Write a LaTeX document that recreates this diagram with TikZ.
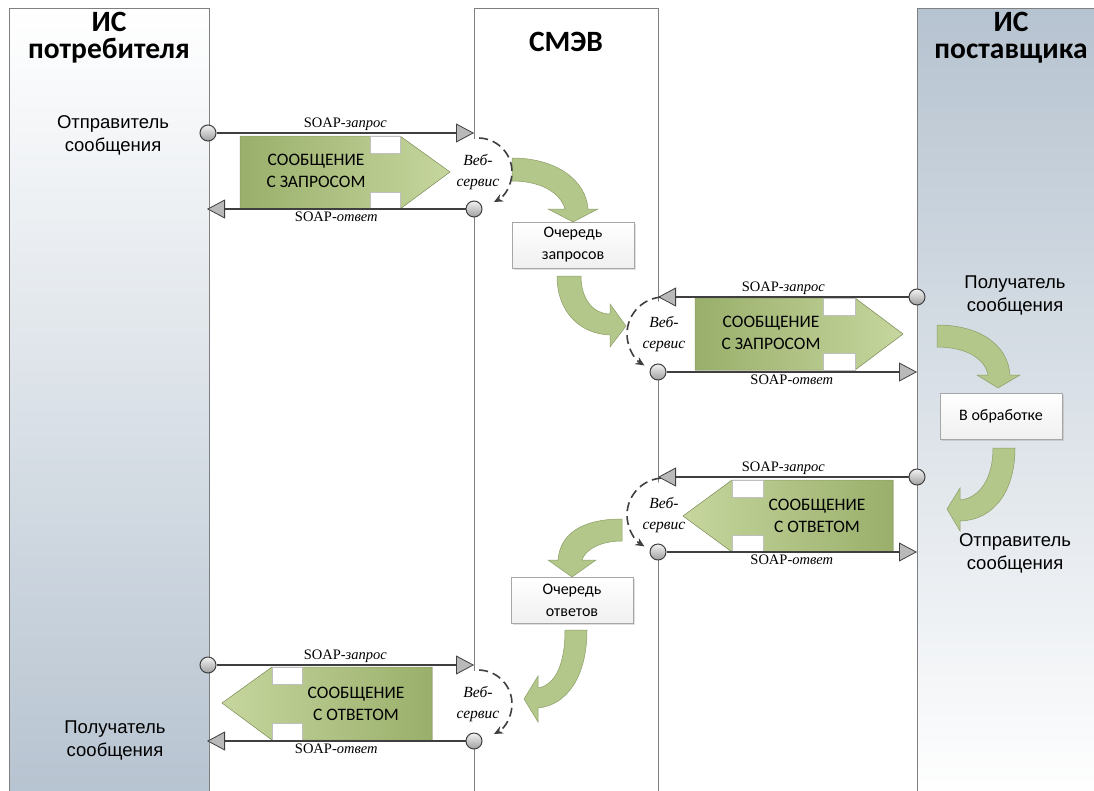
\documentclass[tikz,border=0pt]{standalone}
\usepackage{fontspec}
\setmainfont{Liberation Sans}
\newfontfamily\calib{Carlito}
\newfontfamily\cambr{Liberation Serif}
\usetikzlibrary{arrows.meta,shadows}
\definecolor{lanegray}{HTML}{7F7F7F}
\definecolor{laneblue}{HTML}{B6C3D0}
\definecolor{linegray}{HTML}{3F3F3F}
\definecolor{msgdark}{HTML}{9AAF6B}
\definecolor{msglight}{HTML}{C6D69E}
\definecolor{curvegreen}{HTML}{B4C78A}
\definecolor{curveedge}{HTML}{8C9D66}

\tikzset{
  lane/.style={draw=lanegray,line width=1pt},
  lanetitle/.style={font=\calib\bfseries\fontsize{29.5}{27}\selectfont,align=center},
  actor/.style={font=\fontsize{18.5}{23}\selectfont,align=center},
  ball/.style={circle,draw=linegray,line width=1pt,minimum size=16pt,inner sep=0pt,top color=gray!10,bottom color=gray!75},
  soap/.style={draw=linegray,line width=1.6pt,-{Triangle[length=18pt,width=19pt,line width=0.8pt,fill=gray!55]}},
  soaplbl/.style={font=\cambr\itshape\fontsize{14.5}{16}\selectfont,inner sep=2pt},
  websvc/.style={circle,fill=white,minimum size=66pt,inner sep=0pt,align=center,font=\cambr\itshape\fontsize{15.5}{21}\selectfont},
  wsarc/.style={draw=linegray,line width=1.6pt,dash pattern=on 9pt off 5pt,-{Stealth[length=9pt,width=8pt]}},
  msgright/.style={left color=msgdark,right color=msglight,draw=curveedge,line width=0.5pt},
  msgleft/.style={left color=msglight,right color=msgdark,draw=curveedge,line width=0.5pt},
  notch/.style={fill=white,draw=gray!50,line width=0.4pt},
  msgtext/.style={font=\calib\fontsize{17.5}{22}\selectfont,align=center},
  turn/.style={fill=curvegreen,draw=curveedge,line width=0.5pt},
  queue/.style={draw=gray!70,line width=0.8pt,top color=white,bottom color=gray!12,minimum width=122pt,minimum height=46pt,align=center,font=\calib\fontsize{16}{22}\selectfont,drop shadow={opacity=0.25,shadow xshift=2pt,shadow yshift=-2pt}}
}

\begin{document}
\begin{tikzpicture}[x=1pt,y=-1pt]
\useasboundingbox (0,0) rectangle (1094,790);
\clip (0,0) rectangle (1094,790);
%\draw (0,0) grid[step=50] (1094,790);

% lanes
\filldraw[lane,top color=white,bottom color=laneblue] (9,8) rectangle (209,800);
\filldraw[lane,fill=white] (474,8) rectangle (658,800);
\filldraw[lane,top color=laneblue,bottom color=white] (917,8) rectangle (1110,800);
\node[lanetitle] (cons) at (109,38) {ИС\\потребителя};
\node[lanetitle] (smev) at (566,42) {СМЭВ};
\node[lanetitle] (prov) at (1011,38) {ИС\\поставщика};

\node[actor] (snd1) at (113,135) {Отправитель\\сообщения};
\node[actor] (rcv1) at (1015,295) {Получатель\\сообщения};
\node[actor] (snd2) at (1015,553) {Отправитель\\сообщения};
\node[actor] (rcv2) at (115,740) {Получатель\\сообщения};

% web services
\node[websvc] (w1) at (478,172) {Веб-\\сервис};
\node[websvc] (w2) at (664,334) {Веб-\\сервис};
\node[websvc] (w3) at (664,515) {Веб-\\сервис};
\node[websvc] (w4) at (478,704) {Веб-\\сервис};

% messages
\filldraw[msgright] (240,136) -- (400,136) -- (450,172) -- (400,209) -- (240,209) -- cycle;
\filldraw[notch] (370,136) rectangle (400,153);
\filldraw[notch] (370,192) rectangle (400,209);
\node[msgtext] (m1) at (316,171) {СООБЩЕНИЕ\\С ЗАПРОСОМ};

\filldraw[msgright] (695,298) -- (855,298) -- (903,334) -- (855,370) -- (695,370) -- cycle;
\filldraw[notch] (823,298) rectangle (855,315);
\filldraw[notch] (823,353) rectangle (855,370);
\node[msgtext] (m2) at (771,333) {СООБЩЕНИЕ\\С ЗАПРОСОМ};

\filldraw[msgleft] (893,480) -- (732,480) -- (683,516) -- (732,552) -- (893,552) -- cycle;
\filldraw[notch] (732,480) rectangle (763,497);
\filldraw[notch] (732,535) rectangle (763,552);
\node[msgtext] (m3) at (817,516) {СООБЩЕНИЕ\\С ОТВЕТОМ};

\filldraw[msgleft] (432,667) -- (272,667) -- (222,703) -- (272,740) -- (432,740) -- cycle;
\filldraw[notch] (272,667) rectangle (302,684);
\filldraw[notch] (272,723) rectangle (302,740);
\node[msgtext] (m4) at (356,704) {СООБЩЕНИЕ\\С ОТВЕТОМ};

% queues
\node[queue] (qreq) at (573,245) {Очередь\\запросов};
\node[queue] (work) at (1001,416) {В обработке};
\node[queue] (qans) at (572,600) {Очередь\\ответов};

% turns
\filldraw[turn] (512,158) .. controls (556,158) and (586,180) .. (588,209) -- (598,209) -- (573,222) -- (548,209) -- (565,209) .. controls (560,192) and (540,181) .. (512,181) -- cycle;
\filldraw[turn] (557,276) .. controls (557,312) and (580,334) .. (610,335) -- (610,347) -- (626,326) -- (610,304) -- (610,314) .. controls (594,314) and (581,300) .. (581,276) -- cycle;
\filldraw[turn] (937,325) .. controls (980,325) and (1008,345) .. (1010,375) -- (1020,375) -- (998,388) -- (977,375) -- (988,375) .. controls (985,358) and (965,347) .. (937,347) -- cycle;
\filldraw[turn] (1015,448) .. controls (1015,490) and (995,520) .. (960,521) -- (960,531) -- (947,509) -- (960,488) -- (960,500) .. controls (980,498) and (993,478) .. (993,448) -- cycle;
\filldraw[turn] (622,519) .. controls (580,519) and (560,535) .. (558,560) -- (548,560) -- (572,577) -- (596,560) -- (582,560) .. controls (585,550) and (600,541) .. (622,541) -- cycle;
\filldraw[turn] (587,630) .. controls (587,675) and (568,705) .. (538,708) -- (538,722) -- (524,699) -- (538,676) -- (538,688) .. controls (555,685) and (565,665) .. (565,630) -- cycle;

% soap calls
\node[ball] (b1) at (208,133) {};
\node[ball] (b2) at (474,209) {};
\node[ball] (b3) at (917,297) {};
\node[ball] (b4) at (658,372) {};
\node[ball] (b5) at (917,477) {};
\node[ball] (b6) at (658,552) {};
\node[ball] (b7) at (208,665) {};
\node[ball] (b8) at (474,741) {};
\coordinate (q1) at (474,133);
\coordinate (q2) at (207,209);
\coordinate (q3) at (658,297);
\coordinate (q4) at (917,372);
\coordinate (q5) at (658,477);
\coordinate (q6) at (917,552);
\coordinate (q7) at (474,665);
\coordinate (q8) at (207,741);
\draw[soap] (b1) -- node[above,soaplbl] {{\upshape SOAP}-запрос} (q1);
\draw[soap] (b2) -- node[below,soaplbl] {{\upshape SOAP}-ответ} (q2);
\draw[soap] (b3) -- node[above,soaplbl] {{\upshape SOAP}-запрос} (q3);
\draw[soap] (b4) -- node[below,soaplbl] {{\upshape SOAP}-ответ} (q4);
\draw[soap] (b5) -- node[above,soaplbl] {{\upshape SOAP}-запрос} (q5);
\draw[soap] (b6) -- node[below,soaplbl] {{\upshape SOAP}-ответ} (q6);
\draw[soap] (b7) -- node[above,soaplbl] {{\upshape SOAP}-запрос} (q7);
\draw[soap] (b8) -- node[below,soaplbl] {{\upshape SOAP}-ответ} (q8);

\draw[wsarc] ([shift={(88:34pt)}]w1.center) arc[start angle=88,end angle=-62,radius=34pt];
\draw[wsarc] ([shift={(95:37pt)}]w2.center) arc[start angle=95,end angle=238,radius=37pt];
\draw[wsarc] ([shift={(95:37pt)}]w3.center) arc[start angle=95,end angle=238,radius=37pt];
\draw[wsarc] ([shift={(88:34pt)}]w4.center) arc[start angle=88,end angle=-62,radius=34pt];
\end{tikzpicture}
\end{document}
